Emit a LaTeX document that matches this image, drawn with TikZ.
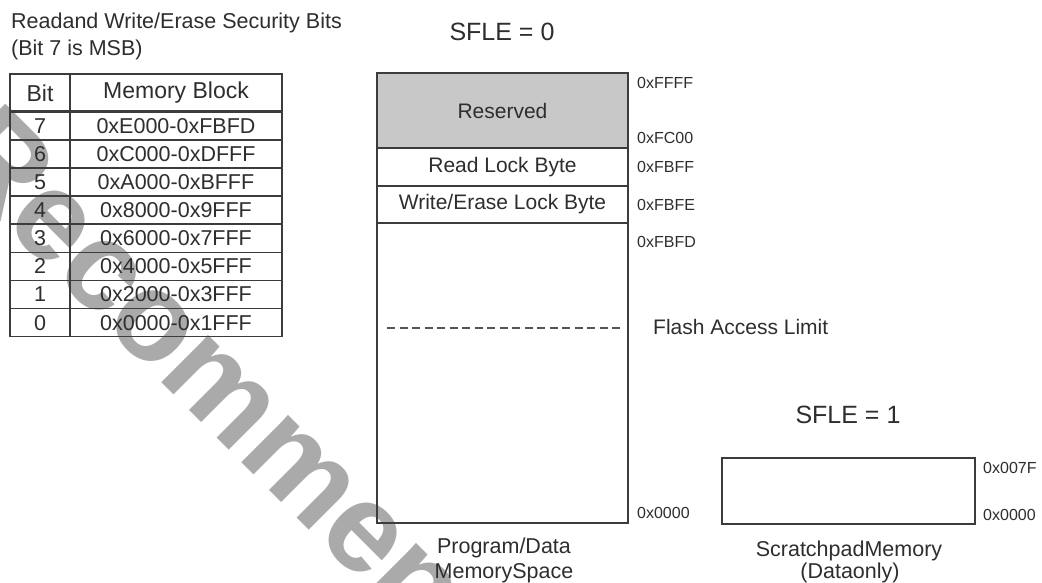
\documentclass[tikz,border=0pt]{standalone}
\usepackage{fontspec}
\setmainfont{Liberation Sans}
\definecolor{ink}{HTML}{2E2E2E}
\definecolor{linec}{HTML}{3C3C3C}
\definecolor{resgray}{HTML}{C8C8C8}
\definecolor{wmgray}{HTML}{AAAAAA}
\definecolor{dashc}{HTML}{555555}
\begin{document}
\begin{tikzpicture}[x=1pt,y=-1pt,
  fs/.style={font=\fontsize{#1}{#1}\selectfont},
  lbl/.style={inner sep=0pt, text=ink},
  addr/.style={lbl, anchor=west, fs=16},
  hcell/.style={draw=linec, line width=2.6pt, minimum height=37.7pt, inner sep=0pt, text=ink, fs=23},
  dcell/.style={draw=linec, line width=1.4pt, minimum height=28.1pt, inner sep=0pt, text=ink, fs=21.5},
  membox/.style={draw=linec, line width=1.6pt, minimum width=251pt, inner sep=0pt, text=ink, fs=21},
  dashline/.style={draw=dashc, line width=1.4pt, dash pattern=on 8pt off 4.5pt}
]
\useasboundingbox (0,0) rectangle (1042,582);
\clip (0,0) rectangle (1042,582);
\fill[white] (0,0) rectangle (1042,582);

% watermark (behind everything)
\node[rotate=-45, anchor=base west, inner sep=0pt, text=wmgray, font=\fontsize{126}{126}\selectfont\bfseries] (wmark) at (-62,159) {Recommen};

% title
\node[lbl, anchor=west, fs=21.5] (title1) at (11,23) {Readand Write/Erase Security Bits};
\node[lbl, anchor=west, fs=21.5] (title2) at (11,50) {(Bit 7 is MSB)};

% table
\foreach \b [count=\k from 0] in {7,6,5,4,3,2,1,0}{
  \pgfmathsetmacro{\cy}{111.7+28.12*(\k+0.5)}
  \node[dcell, minimum width=60pt] (bit\b) at (40,\cy) {\b};
}
\foreach \b/\r [count=\k from 0] in {7/0xE000-0xFBFD,6/0xC000-0xDFFF,5/0xA000-0xBFFF,4/0x8000-0x9FFF,3/0x6000-0x7FFF,2/0x4000-0x5FFF,1/0x2000-0x3FFF,0/0x0000-0x1FFF}{
  \pgfmathsetmacro{\cy}{111.7+28.12*(\k+0.5)}
  \node[dcell, minimum width=212pt] (blk\b) at (176,\cy) {\r};
}
\node[hcell, minimum width=60pt] (hbit) at (40,92.85) {Bit};
\node[hcell, minimum width=212pt] (hblk) at (176,92.85) {Memory Block};

% SFLE = 0 memory map
\node[lbl, fs=25] (sfle0) at (502,32) {SFLE = 0};
\node[membox, minimum height=300pt] (flash) at (502.5,373) {};
\node[membox, minimum height=75pt, fill=resgray] (reserved) at (502.5,110.5) {Reserved};
\node[membox, minimum height=38pt] (rlock) at (502.5,167) {Read Lock Byte};
\node[membox, minimum height=37pt] (wlock) at (502.5,204.5) {Write/Erase Lock Byte};

\coordinate (dl) at (387,328);
\coordinate (dr) at (621,328);
\draw[dashline] (dl) -- (dr);
\node[lbl, anchor=west, fs=21] (fal) at (653,327) {Flash Access Limit};

\node[addr] (aFFFF) at (637,83) {0xFFFF};
\node[addr] (aFC00) at (637,138) {0xFC00};
\node[addr] (aFBFF) at (637,167) {0xFBFF};
\node[addr] (aFBFE) at (637,205) {0xFBFE};
\node[addr] (aFBFD) at (637,242) {0xFBFD};
\node[addr] (a0000) at (637,513) {0x0000};

\node[lbl, fs=21.5] (pd1) at (504,548) {Program/Data};
\node[lbl, fs=21.5] (pd2) at (504,573) {MemorySpace};

% SFLE = 1 scratchpad
\node[lbl, fs=25] (sfle1) at (848,415) {SFLE = 1};
\node[membox, minimum width=253pt, minimum height=66pt] (scratch) at (848.5,491) {};
\node[addr] (s007F) at (983,468) {0x007F};
\node[addr] (s0000) at (983,515) {0x0000};
\node[lbl, fs=21.5] (sp1) at (849,551) {ScratchpadMemory};
\node[lbl, fs=21.5] (sp2) at (850,573) {(Dataonly)};
\end{tikzpicture}
\end{document}
